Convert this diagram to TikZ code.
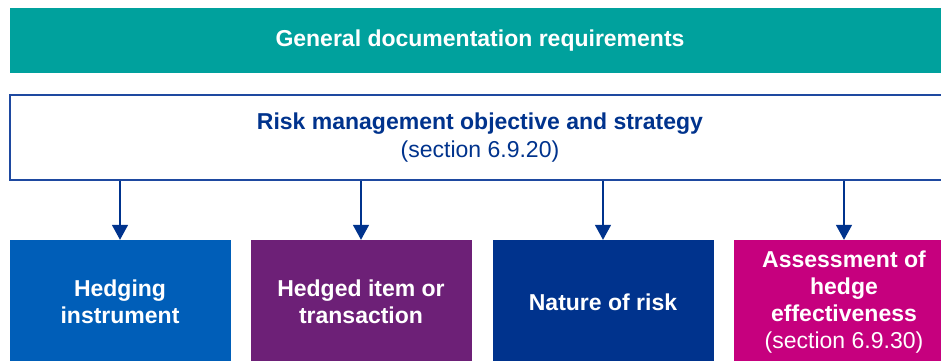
\documentclass[tikz,border=0pt]{standalone}
\usepackage{fontspec}
\setsansfont{Liberation Sans}
\usetikzlibrary{arrows.meta}

\definecolor{kteal}{RGB}{0,161,157}
\definecolor{kblue}{RGB}{0,94,184}
\definecolor{kpurple}{RGB}{109,32,119}
\definecolor{kdark}{RGB}{0,51,141}
\definecolor{kpink}{RGB}{198,0,126}
\definecolor{kline}{RGB}{30,73,160}

\begin{document}
\begin{tikzpicture}[
  x=1pt, y=-1pt,
  font=\sffamily\fontsize{23}{27.3}\selectfont,
  band/.style={rectangle, minimum height=65pt, minimum width=940pt, inner sep=0pt,
               fill=kteal, text=white, font=\sffamily\bfseries\fontsize{23}{27.3}\selectfont},
  frame/.style={rectangle, minimum height=85pt, minimum width=940pt, inner sep=0pt,
                draw=kline, line width=1.2pt, fill=white, text=kdark, align=center},
  item/.style={rectangle, minimum height=124pt, minimum width=221pt, inner sep=0pt,
               text=white, align=center, font=\sffamily\bfseries\fontsize{23}{27.3}\selectfont},
  arr/.style={-{Triangle[length=15pt,width=16pt]}, draw=kdark, line width=1.6pt}
]
\useasboundingbox (0,0) rectangle (941,360);
\clip (0,0) rectangle (941,360);

\node[band]  (gen)  at (480,40.5)  {General documentation requirements};
\node[frame] (risk) at (480,137.5) {\textbf{Risk management objective and strategy}\\(section 6.9.20)};

\node[item, fill=kblue]   (inst) at (120,302)  {Hedging\\instrument};
\node[item, fill=kpurple] (hitem) at (361,302) {Hedged item or\\transaction};
\node[item, fill=kdark]   (nat)  at (603,302)  {Nature of risk};
\node[item, fill=kpink]   (eff)  at (844,302)  {Assessment of\\hedge\\effectiveness\\\mdseries(section 6.9.30)};

% arrows from the strategy box
\foreach \t in {inst,hitem,nat,eff}
  \draw[arr] (risk.south -| \t.north) -- (\t.north);
\end{tikzpicture}
\end{document}
